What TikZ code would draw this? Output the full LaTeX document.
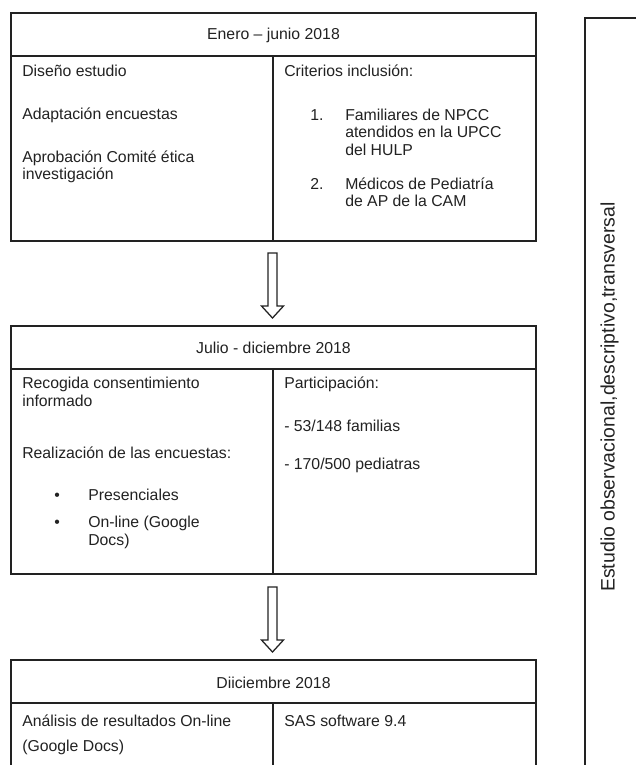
\documentclass[tikz,border=0pt]{standalone}
\usepackage{fontspec}
\setmainfont{Liberation Sans}
\usetikzlibrary{fit}
\definecolor{ink}{HTML}{222222}
\begin{document}
\begin{tikzpicture}[x=0.75pt,y=-0.75pt,
  frame/.style={draw=ink, line width=0.95pt, inner sep=0pt, rectangle},
  txt/.style={anchor=base west, inner sep=0pt, text=ink, font=\fontsize{11.85}{14}\selectfont},
  ctxt/.style={txt, anchor=base},
  blockarrow/.style={draw=ink, line width=0.95pt, fill=white, line join=miter}]
\useasboundingbox (0,0) rectangle (636,765);
\clip (0,0) rectangle (636,765);
\fill[white] (0,0) rectangle (636,765);

% ---------- box 1 ----------
\node[frame, fit={(11,13)(536,56)}] (h1) {};
\node[frame, fit={(11,56)(273,241)}] (l1) {};
\node[frame, fit={(273,56)(536,241)}] (r1) {};
\node[ctxt] (h1t) at (273.5,39.5) {Enero – junio 2018};
\node[txt] (l1a) at (22,76.7) {Diseño estudio};
\node[txt] (l1b) at (22,119.5) {Adaptación encuestas};
\node[txt] (l1c) at (22,162) {Aprobación Comité ética};
\node[txt] (l1d) at (22,179.5) {investigación};
\node[txt] (r1a) at (284,76.7) {Criterios inclusión:};
\node[txt] (r1n1) at (310,120) {1.};
\node[txt] (r1b) at (345,120) {Familiares de NPCC};
\node[txt] (r1c) at (345,137.5) {atendidos en la UPCC};
\node[txt] (r1d) at (345,155) {del HULP};
\node[txt] (r1n2) at (310,189.3) {2.};
\node[txt] (r1e) at (345,189.3) {Médicos de Pediatría};
\node[txt] (r1f) at (345,206.8) {de AP de la CAM};

% ---------- arrow 1 ----------
\coordinate (a1s) at (272.5,253);
\coordinate (a1t) at (272.5,318);
\draw[blockarrow] (a1s) ++(-4.5,0) -- ++(9,0) -- ++(0,53) -- ++(6.5,0) -- (a1t)
  -- ++(-11,-12) -- ++(6.5,0) -- cycle;

% ---------- box 2 ----------
\node[frame, fit={(11,326)(536,369)}] (h2) {};
\node[frame, fit={(11,369)(273,574)}] (l2) {};
\node[frame, fit={(273,369)(536,574)}] (r2) {};
\node[ctxt] (h2t) at (273.5,353) {Julio - diciembre 2018};
\node[txt] (l2a) at (22,388) {Recogida consentimiento};
\node[txt] (l2b) at (22,406) {informado};
\node[txt] (l2c) at (22,458.5) {Realización de las encuestas:};
\node[txt] (l2d1) at (54,500) {•};
\node[txt] (l2d) at (88,500) {Presenciales};
\node[txt] (l2e1) at (54,527) {•};
\node[txt] (l2e) at (88,527) {On-line (Google};
\node[txt] (l2f) at (88,545) {Docs)};
\node[txt] (r2a) at (284,388) {Participación:};
\node[txt] (r2b) at (284,431) {- 53/148 familias};
\node[txt] (r2c) at (284,469) {- 170/500 pediatras};

% ---------- arrow 2 ----------
\coordinate (a2s) at (272.5,587);
\coordinate (a2t) at (272.5,652);
\draw[blockarrow] (a2s) ++(-4.5,0) -- ++(9,0) -- ++(0,53) -- ++(6.5,0) -- (a2t)
  -- ++(-11,-12) -- ++(6.5,0) -- cycle;

% ---------- box 3 ----------
\node[frame, fit={(11,660)(536,703)}] (h3) {};
\node[frame, fit={(11,703)(273,790)}] (l3) {};
\node[frame, fit={(273,703)(536,790)}] (r3) {};
\node[ctxt] (h3t) at (273.5,688) {Diiciembre 2018};
\node[txt] (l3a) at (22,726.7) {Análisis de resultados On-line};
\node[txt] (l3b) at (22,751) {(Google Docs)};
\node[txt] (r3a) at (284,726.7) {SAS software 9.4};

% ---------- side box ----------
\node[frame, fit={(585,18)(660,790)}] (side) {};
\node[txt, anchor=center, rotate=90, font=\fontsize{14.6}{16}\selectfont] (sidet) at (609.5,397) {Estudio observacional,descriptivo,transversal};
\end{tikzpicture}
\end{document}
